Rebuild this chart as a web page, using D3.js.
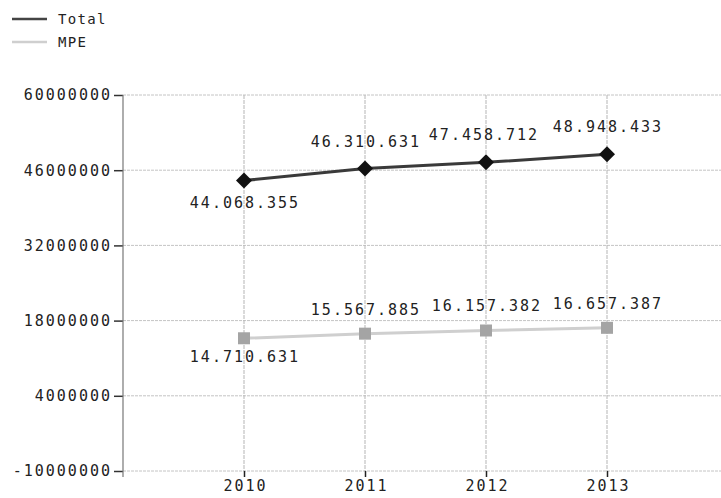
<!DOCTYPE html>
<html>
<head>
<meta charset="utf-8">
<script src="https://cdn.jsdelivr.net/npm/d3@7"></script>
<style>
  html, body { margin: 0; padding: 0; background: #fff; }
  svg { display: block; }
  text { font-family: "DejaVu Sans Mono", monospace; fill: #222; }
</style>
</head>
<body>
<svg id="chart" width="721" height="498"></svg>
<script>
const years = [2010, 2011, 2012, 2013];
const totalValues = [44068355, 46310631, 47458712, 48948433];
const mpeValues = [14710631, 15567885, 16157382, 16657387];
const totalLabels = ["44.068.355", "46.310.631", "47.458.712", "48.948.433"];
const mpeLabels = ["14.710.631", "15.567.885", "16.157.382", "16.657.387"];
const yTicks = [-10000000, 4000000, 18000000, 32000000, 46000000, 60000000];
const seriesNames = ["Total", "MPE"];

const svg = d3.select("#chart");
const x = d3.scaleLinear().domain([2009, 2014]).range([123, 728]);
const y = d3.scaleLinear().domain([-10000000, 60000000]).range([471, 95]);

// horizontal grid
svg.append("g").selectAll("line").data(yTicks).join("line")
  .attr("x1", x(2009)).attr("x2", 721)
  .attr("y1", d => y(d)).attr("y2", d => y(d))
  .attr("stroke", "#c4c4c4").attr("stroke-width", 1).attr("stroke-dasharray", "3,1");

// vertical grid
svg.append("g").selectAll("line").data(years).join("line")
  .attr("x1", d => x(d)).attr("x2", d => x(d))
  .attr("y1", y(60000000)).attr("y2", y(-10000000))
  .attr("stroke", "#b5b5b5").attr("stroke-width", 1).attr("stroke-dasharray", "4,1");

// y axis
const yAxis = d3.axisLeft(y).tickValues(yTicks).tickSize(9).tickPadding(4)
  .tickFormat(d => String(d));
const gy = svg.append("g").attr("transform", `translate(${x(2009)},0)`).call(yAxis);
gy.select(".domain").remove();
gy.selectAll(".tick line").attr("stroke", "#333").attr("stroke-width", 1.5);
gy.selectAll(".tick text").attr("font-size", 15).attr("letter-spacing", "2px")
  .attr("font-family", "DejaVu Sans Mono").attr("fill", "#222").attr("dx", 2);
svg.append("line")
  .attr("x1", x(2009)).attr("x2", x(2009))
  .attr("y1", y(60000000)).attr("y2", y(-10000000) + 6)
  .attr("stroke", "#777").attr("stroke-width", 1.2);

// x axis
const xAxis = d3.axisBottom(x).tickValues(years).tickSize(6).tickPadding(3)
  .tickFormat(d3.format("d"));
const gx = svg.append("g").attr("transform", `translate(0,${y(-10000000)})`).call(xAxis);
gx.select(".domain").remove();
gx.selectAll(".tick line").attr("stroke", "#222").attr("stroke-width", 1.5);
gx.selectAll(".tick text").attr("font-size", 15).attr("letter-spacing", "2px")
  .attr("font-family", "DejaVu Sans Mono").attr("fill", "#222").attr("dx", 1);

// lines
const lineGen = d3.line().x(d => x(d[0])).y(d => y(d[1]));
const totalPts = years.map((yr, i) => [yr, totalValues[i]]);
const mpePts = years.map((yr, i) => [yr, mpeValues[i]]);

svg.append("path").datum(mpePts).attr("d", lineGen)
  .attr("fill", "none").attr("stroke", "#cfcfcf").attr("stroke-width", 3);
svg.append("path").datum(totalPts).attr("d", lineGen)
  .attr("fill", "none").attr("stroke", "#3a3a3a").attr("stroke-width", 3);

// markers
svg.append("g").selectAll("rect").data(mpePts).join("rect")
  .attr("x", d => x(d[0]) - 6).attr("y", d => y(d[1]) - 6)
  .attr("width", 12).attr("height", 12).attr("fill", "#a4a4a4");
svg.append("g").selectAll("path").data(totalPts).join("path")
  .attr("d", d => {
    const cx = x(d[0]), cy = y(d[1]);
    return `M${cx},${cy - 8}L${cx + 8},${cy}L${cx},${cy + 8}L${cx - 8},${cy}Z`;
  })
  .attr("fill", "#111");

// data labels
svg.append("g").selectAll("text").data(totalPts).join("text")
  .attr("x", (d, i) => x(d[0]) + (i === 2 ? -2 : 1))
  .attr("y", (d, i) => y(d[1]) + (i === 0 ? 27 : -22))
  .attr("text-anchor", "middle").attr("font-size", 15).attr("letter-spacing", "2px")
  .text((d, i) => totalLabels[i]);
svg.append("g").selectAll("text").data(mpePts).join("text")
  .attr("x", d => x(d[0]) + 1)
  .attr("y", (d, i) => y(d[1]) + (i === 0 ? 24 : -19))
  .attr("text-anchor", "middle").attr("font-size", 15).attr("letter-spacing", "2px")
  .text((d, i) => mpeLabels[i]);

// legend
const legendColors = ["#444", "#cfcfcf"];
const lg = svg.append("g").selectAll("g").data(seriesNames).join("g")
  .attr("transform", (d, i) => `translate(12,${19 + i * 23})`);
lg.append("line").attr("x1", 0).attr("x2", 35).attr("y1", 0).attr("y2", 0)
  .attr("stroke", (d, i) => legendColors[i]).attr("stroke-width", 2.5);
lg.append("text").attr("x", 46).attr("y", 0).attr("dy", "0.35em")
  .attr("font-size", 14).attr("letter-spacing", "1.3px").text(d => d);
</script>
</body>
</html>
